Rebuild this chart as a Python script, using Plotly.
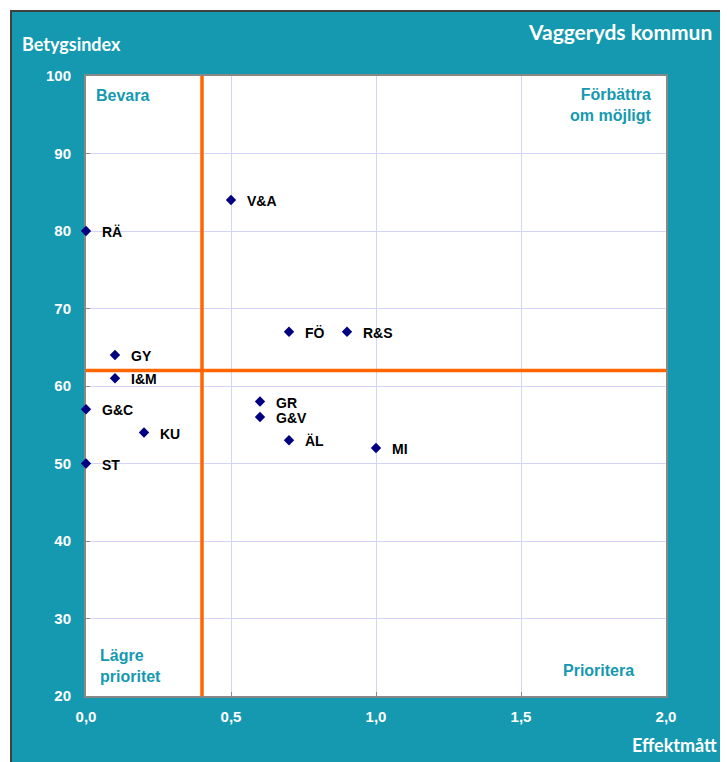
import plotly.graph_objects as go

labels = ["V&A", "RÄ", "FÖ", "R&S", "GY", "I&M", "G&C", "KU", "ST", "GR", "G&V", "ÄL", "MI"]
effekt = [0.5, 0.0, 0.7, 0.9, 0.1, 0.1, 0.0, 0.2, 0.0, 0.6, 0.6, 0.7, 1.0]
betyg = [84, 80, 67, 67, 64, 61, 57, 54, 50, 58, 56, 53, 52]

x_ticks = [0.0, 0.5, 1.0, 1.5, 2.0]
x_ticktext = ["0,0", "0,5", "1,0", "1,5", "2,0"]
y_ticks = [20, 30, 40, 50, 60, 70, 80, 90, 100]
x_split = 0.4
y_split = 62

TEAL = "#1499B0"
OFF = 8  # page body margin
W, H = 728 - OFF, 762 - OFF
L, R, T, B = 86 - OFF, 62, 76 - OFF, 66
PW, PH = W - L - R, H - T - B

def px(xp):
    return (xp - OFF - L) / PW

def py(yp):
    return (H - B - (yp - OFF)) / PH

fig = go.Figure()
fig.add_trace(go.Scatter(
    x=effekt, y=betyg, mode="markers",
    marker=dict(symbol="diamond", size=8, color="#000080"),
    hoverinfo="skip", showlegend=False, cliponaxis=False,
))

for lab, xv, yv in zip(labels, effekt, betyg):
    fig.add_annotation(x=xv, y=yv, text=lab, showarrow=False, xanchor="left",
                       yanchor="middle", xshift=14, yshift=-1,
                       font=dict(family="Liberation Sans", size=14, color="black", weight="bold"))

# split lines
fig.add_shape(type="line", x0=x_split, x1=x_split, y0=20, y1=100, xref="x", yref="y",
              line=dict(color="#FF6600", width=3.5))
fig.add_shape(type="line", x0=0, x1=2, y0=y_split, y1=y_split, xref="x", yref="y",
              line=dict(color="#FF6600", width=3.5))

# outer white strips and frame
fig.add_shape(type="rect", xref="paper", yref="paper", x0=px(0), x1=px(740), y0=py(11), y1=py(0),
              fillcolor="white", line=dict(width=0), layer="above")
fig.add_shape(type="rect", xref="paper", yref="paper", x0=px(0), x1=px(11), y0=py(770), y1=py(0),
              fillcolor="white", line=dict(width=0), layer="above")
fig.add_shape(type="path", xref="paper", yref="paper",
              path=f"M {px(11)} {py(770)} L {px(11)} {py(11)} L {px(740)} {py(11)}",
              line=dict(color="#404040", width=2), layer="above")

qfont = dict(family="Liberation Sans", size=16, color=TEAL, weight="bold")
fig.add_annotation(xref="paper", yref="paper", x=px(94), y=py(95), text="Bevara", showarrow=False,
                   xanchor="left", yanchor="middle", font=qfont)
fig.add_annotation(xref="paper", yref="paper", x=px(654), y=py(105), text="Förbättra<br>om möjligt",
                   showarrow=False, xanchor="right", yanchor="middle", align="right", font=qfont)
fig.add_annotation(xref="paper", yref="paper", x=px(98), y=py(666), text="Lägre<br>prioritet",
                   showarrow=False, xanchor="left", yanchor="middle", align="left", font=qfont)
fig.add_annotation(xref="paper", yref="paper", x=px(598), y=py(670), text="Prioritera",
                   showarrow=False, xanchor="center", yanchor="middle", font=qfont)

tfont = dict(family="Lato", size=18, color="white", weight="bold")
fig.add_annotation(xref="paper", yref="paper", x=px(20), y=py(44), text="Betygsindex", showarrow=False,
                   xanchor="left", yanchor="middle", font=tfont)
fig.add_annotation(xref="paper", yref="paper", x=px(714), y=py(32), text="Vaggeryds kommun", showarrow=False,
                   xanchor="right", yanchor="middle", font=dict(family="Lato", size=21, color="white", weight="bold"))
fig.add_annotation(xref="paper", yref="paper", x=px(719), y=py(745), text="Effektmått", showarrow=False,
                   xanchor="right", yanchor="middle", font=tfont)

tickfont = dict(family="Liberation Sans", size=15, color="white", weight="bold")
fig.update_xaxes(range=[0, 2], tickvals=x_ticks, ticktext=x_ticktext, showgrid=True,
                 gridcolor="#D4D4F8", gridwidth=1, zeroline=False, showline=True, linecolor="#888888",
                 linewidth=2, mirror=True, ticks="inside", ticklen=4, tickcolor="#888888",
                 tickfont=tickfont, ticklabelstandoff=6, fixedrange=True, layer="below traces")
fig.update_yaxes(range=[20, 100], tickvals=y_ticks, showgrid=True,
                 gridcolor="#D4D4F8", gridwidth=1, zeroline=False, showline=True, linecolor="#888888",
                 linewidth=2, mirror=True, ticks="inside", ticklen=4, tickcolor="#888888",
                 tickfont=tickfont, ticklabelstandoff=10, fixedrange=True, layer="below traces")

fig.update_layout(width=W, height=H, margin=dict(l=L, r=R, t=T, b=B),
                  paper_bgcolor=TEAL, plot_bgcolor="white", showlegend=False)

fig.write_html("out.html")
